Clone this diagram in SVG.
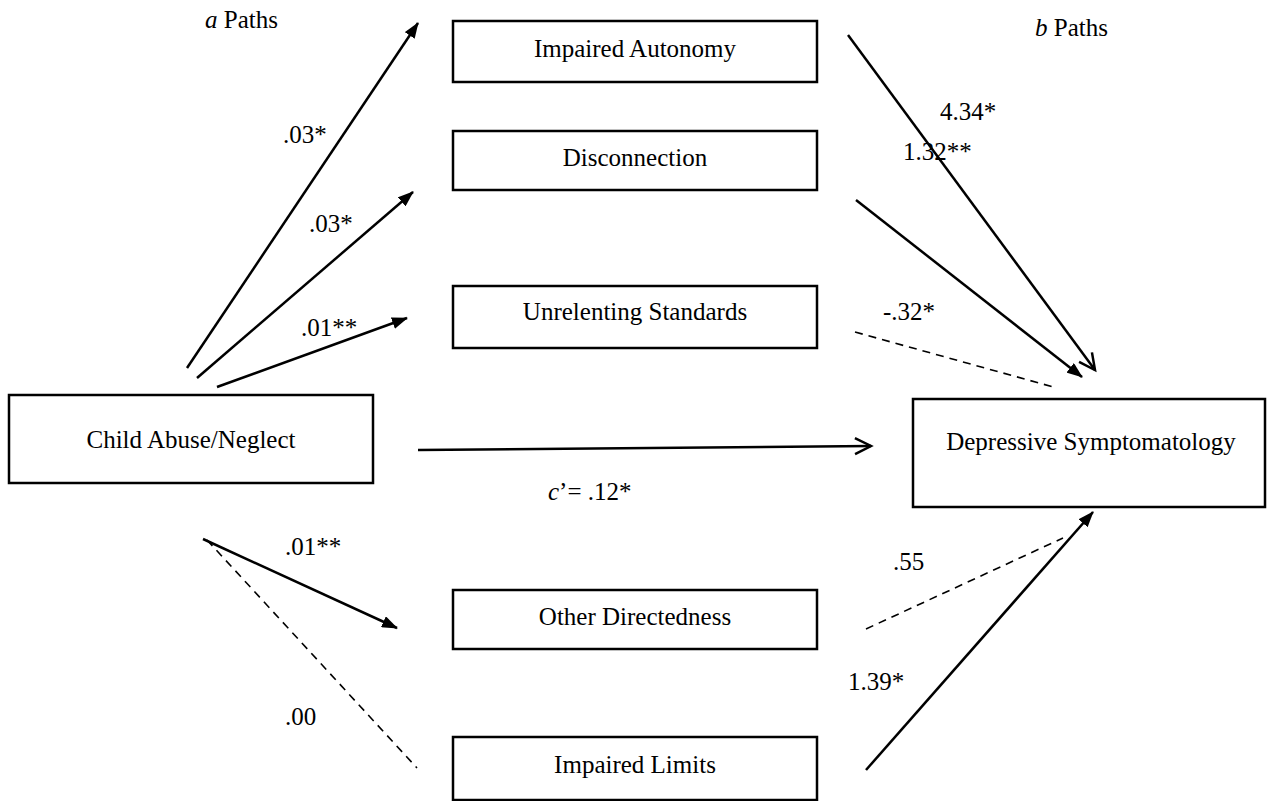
<svg xmlns="http://www.w3.org/2000/svg" width="1275" height="801" viewBox="0 0 1275 801">
<style>
.box{fill:#fff;stroke:#000;stroke-width:2.5}
.t{font-family:"Liberation Serif","Times New Roman",serif;font-size:25px;fill:#000}
.m{text-anchor:middle}
.s{fill:none;stroke:#000;stroke-width:2.5}
.d{fill:none;stroke:#000;stroke-width:1.6;stroke-dasharray:8,6}
</style>
<defs>
<marker id="fill" viewBox="0 0 16 12" refX="15" refY="6" markerWidth="16" markerHeight="12" markerUnits="userSpaceOnUse" orient="auto"><path d="M0,0 L16,6 L0,12 z" fill="#000"/></marker>
<marker id="open" viewBox="0 0 22 22" refX="19" refY="11" markerWidth="22" markerHeight="22" markerUnits="userSpaceOnUse" orient="auto"><path d="M3,3 L19,11 L3,19" fill="none" stroke="#000" stroke-width="2.5"/></marker>
</defs>
<rect width="1275" height="801" fill="#fff"/>
<g id="connectors">
<line class="s" x1="187" y1="368" x2="418" y2="23" marker-end="url(#fill)"/>
<line class="s" x1="197" y1="378" x2="413" y2="192" marker-end="url(#fill)"/>
<line class="s" x1="217" y1="387" x2="407" y2="318" marker-end="url(#fill)"/>
<line class="s" x1="418" y1="450" x2="871" y2="446" marker-end="url(#open)"/>
<line class="s" x1="203" y1="539" x2="397" y2="628" marker-end="url(#fill)"/>
<line class="d" x1="207" y1="540" x2="417" y2="768"/>
<line class="s" x1="848" y1="35" x2="1095" y2="370" marker-end="url(#open)"/>
<line class="s" x1="856" y1="200" x2="1082" y2="377" marker-end="url(#fill)"/>
<line class="d" x1="855" y1="332" x2="1057" y2="388"/>
<line class="d" x1="866" y1="629" x2="1063" y2="538"/>
<line class="s" x1="866" y1="770" x2="1093" y2="512" marker-end="url(#fill)"/>
</g>
<g id="labels">
<text class="t" x="205" y="28"><tspan font-style="italic">a</tspan> Paths</text>
<text class="t" x="1035" y="36"><tspan font-style="italic">b</tspan> Paths</text>
<text class="t" x="283" y="143">.03*</text>
<text class="t" x="309" y="232">.03*</text>
<text class="t" x="301" y="336">.01**</text>
<text class="t" x="285" y="555">.01**</text>
<text class="t" x="285" y="725">.00</text>
<text class="t" x="548" y="500"><tspan font-style="italic">c</tspan>’= .12*</text>
<text class="t" x="940" y="120">4.34*</text>
<text class="t" x="903" y="160">1.32**</text>
<text class="t" x="883" y="320">-.32*</text>
<text class="t" x="893" y="570">.55</text>
<text class="t" x="848" y="690">1.39*</text>
</g>
<g id="node-impaired-autonomy"><rect class="box" x="453" y="21" width="364" height="61"/><text class="t m" x="635" y="57">Impaired Autonomy</text></g>
<g id="node-disconnection"><rect class="box" x="453" y="131" width="364" height="59"/><text class="t m" x="635" y="166">Disconnection</text></g>
<g id="node-unrelenting"><rect class="box" x="453" y="286" width="364" height="62"/><text class="t m" x="635" y="320">Unrelenting Standards</text></g>
<g id="node-child"><rect class="box" x="9" y="395" width="364" height="88"/><text class="t m" x="191" y="448">Child Abuse/Neglect</text></g>
<g id="node-depressive"><rect class="box" x="913" y="399" width="352" height="108"/><text class="t m" x="1091" y="450">Depressive Symptomatology</text></g>
<g id="node-other"><rect class="box" x="453" y="590" width="364" height="59"/><text class="t m" x="635" y="625">Other Directedness</text></g>
<g id="node-limits"><rect class="box" x="453" y="737" width="364" height="63"/><text class="t m" x="635" y="773">Impaired Limits</text></g>
</svg>
